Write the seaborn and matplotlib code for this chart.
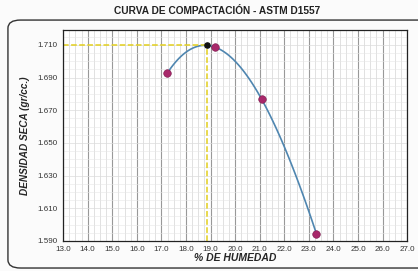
import numpy as np
import pandas as pd
import seaborn as sns
import matplotlib.pyplot as plt
from matplotlib.patches import FancyBboxPatch
from matplotlib.ticker import MultipleLocator, FormatStrFormatter

# Data
humidity = [17.24, 19.18, 21.08, 23.31]
density = [1.6927, 1.7086, 1.6767, 1.5943]
opt_humidity = [18.85]
max_density = [1.710]
x_ticks = [13.0, 14.0, 15.0, 16.0, 17.0, 18.0, 19.0, 20.0, 21.0, 22.0, 23.0, 24.0, 25.0, 26.0, 27.0]
y_ticks = [1.590, 1.610, 1.630, 1.650, 1.670, 1.690, 1.710]

df = pd.DataFrame({'humedad': humidity, 'densidad': density})

sns.set_style('white')
plt.rcParams['font.family'] = ['Liberation Sans', 'DejaVu Sans']

fig = plt.figure(figsize=(4.18, 2.71), dpi=100)
fig.patch.set_facecolor('#fbfbfb')
ax = fig.add_axes([0.151, 0.111, 0.823, 0.779])

# rounded frame around the chart (right side runs off the picture)
frame = FancyBboxPatch((0.019, 0.011), 1.05, 0.915, boxstyle='round,pad=0,rounding_size=0.03',
                       transform=fig.transFigure, fill=False, edgecolor='#333333', lw=1.0)
fig.patches.append(frame)

ax.set_xlim(13.0, 27.0)
ax.set_ylim(1.590, 1.7192)

# grid
ax.xaxis.set_major_locator(MultipleLocator(1.0))
ax.xaxis.set_minor_locator(MultipleLocator(0.25))
ax.yaxis.set_minor_locator(MultipleLocator(0.005))
ax.grid(which='major', axis='x', color='#999999', lw=0.8)
ax.grid(which='minor', axis='x', color='#d4d4d4', lw=0.5)
ax.grid(which='minor', axis='y', color='#e6e6e6', lw=0.4)
ax.grid(which='major', axis='y', color='#dcdcdc', lw=0.5)
ax.set_axisbelow(True)

# fitted curve through the points
sns.regplot(data=df, x='humedad', y='densidad', order=3, ci=None, scatter=False,
            truncate=True, ax=ax, line_kws={'color': '#4f86b0', 'lw': 1.2})

# optimum reference lines
ax.plot([13.0, opt_humidity[0]], [max_density[0]] * 2, color='#e3cf1c', ls='--', lw=1.1)
ax.plot([opt_humidity[0]] * 2, [1.590, max_density[0]], color='#e3cf1c', ls='--', lw=1.1)

sns.scatterplot(data=df, x='humedad', y='densidad', ax=ax, color='#a8286a', s=30,
                edgecolor='#7a1a4c', linewidth=0.4, zorder=5)
ax.scatter(opt_humidity, max_density, color='#111111', s=14, zorder=6)

ax.set_xticks(x_ticks)
ax.set_yticks(y_ticks)
ax.xaxis.set_major_formatter(FormatStrFormatter('%.1f'))
ax.yaxis.set_major_formatter(FormatStrFormatter('%.3f'))
ax.tick_params(axis='both', which='major', labelsize=5.8, length=2, color='#333333', pad=2,
               labelcolor='#333333')
ax.tick_params(which='minor', length=0)
for s in ax.spines.values():
    s.set_color('#222222')
    s.set_linewidth(0.9)

ax.set_xlabel('% DE HUMEDAD', fontsize=7.5, fontweight='bold', style='italic', labelpad=0)
ax.set_ylabel('DENSIDAD SECA (gr/cc.)', fontsize=7.2, fontweight='bold', style='italic', labelpad=5)
fig.text(0.52, 0.958, 'CURVA DE COMPACTACIÓN - ASTM D1557', ha='center', va='center',
         fontsize=7.3, fontweight='bold', color='#222222')

fig.savefig('out.png', dpi=100, facecolor=fig.get_facecolor())
